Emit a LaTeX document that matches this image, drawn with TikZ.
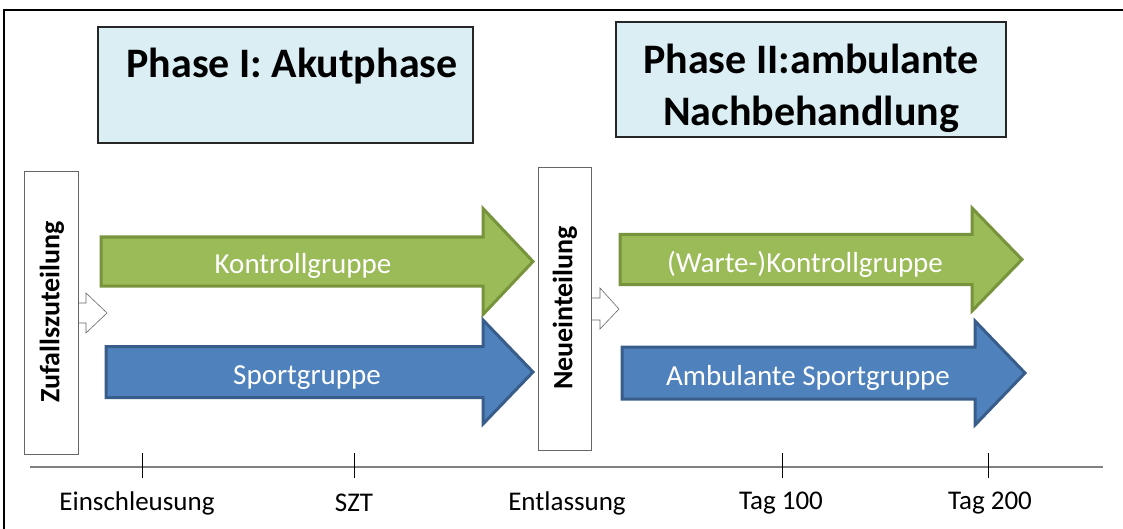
\documentclass[tikz,border=0pt]{standalone}
\usepackage{fontspec}
\setmainfont{Carlito}
\definecolor{grfill}{HTML}{9BBB59}
\definecolor{grline}{HTML}{77933C}
\definecolor{blfill}{HTML}{4F81BD}
\definecolor{blline}{HTML}{385D8A}
\definecolor{phasefill}{HTML}{DBEEF4}
\definecolor{axisgray}{HTML}{808080}
\tikzset{
  phasebox/.style={draw=black!85, line width=1.5pt, fill=phasefill},
  phasetext/.style={font=\fontsize{42}{52}\selectfont\bfseries, align=center, inner sep=0pt},
  splitbox/.style={draw=black!60, line width=0.8pt, fill=white},
  splittext/.style={font=\fontsize{28}{32}\selectfont\bfseries, rotate=90, inner sep=0pt},
  notch/.style={draw=black!60, line width=0.6pt, fill=white},
  greenarrow/.style={draw=grline, fill=grfill, line width=3pt, line join=miter},
  bluearrow/.style={draw=blline, fill=blfill, line width=3pt, line join=miter},
  arrowtext/.style={text=white, font=\fontsize{29}{34}\selectfont, inner sep=0pt},
  axisline/.style={draw=axisgray, line width=2.5pt},
  tickline/.style={draw=black, line width=1pt},
  ticklabel/.style={font=\fontsize{27}{32}\selectfont, inner sep=0pt}
}
% block arrow: #1 start x, #2 head base x, #3 tip x, #4 centre y, #5 shaft half height, #6 head half height
\newcommand{\blockarrow}[7]{%
  \path[#7] (#1,#4-#5) -- (#2,#4-#5) -- (#2,#4-#6) -- (#3,#4) -- (#2,#4+#6) -- (#2,#4+#5) -- (#1,#4+#5) -- cycle;}
\begin{document}
\begin{tikzpicture}[x=1pt,y=-1pt]
\useasboundingbox (0,0) rectangle (1123,529);
% outer frame (top and left edges)
\draw[line width=2.5pt] (4,529) -- (4,10) -- (1123,10);

% phase headings
\draw[phasebox] (98,27) rectangle (473,143);
\node[phasetext] (p1) at (292,66) {Phase I: Akutphase};
\draw[phasebox] (616,22) rectangle (1006,137);
\node[phasetext] (p2) at (811,88) {Phase II:ambulante\\Nachbehandlung};

% group arrows, phase I
\blockarrow{101}{483}{533}{261.5}{24.5}{53}{greenarrow}
\node[arrowtext] (kg) at (303,266) {Kontrollgruppe};
\blockarrow{106}{483}{533}{372}{25.5}{52}{bluearrow}
\node[arrowtext] (sg) at (307,378) {Sportgruppe};

% group arrows, phase II
\blockarrow{620}{972}{1022}{259.5}{25}{51.5}{greenarrow}
\node[arrowtext] (wkg) at (805,264) {(Warte-)Kontrollgruppe};
\blockarrow{622}{975}{1025}{373}{26}{52}{bluearrow}
\node[arrowtext] (asg) at (808,378) {Ambulante Sportgruppe};

% randomisation box with its small arrow
\path[notch] (76,303) -- (86,303) -- (86,293) -- (107,313) -- (86,333) -- (86,323) -- (76,323);
\draw[splitbox] (24,171) rectangle (78,454);
\node[splittext] (zuf) at (52,312) {Zufallszuteilung};

% reassignment box with its small arrow
\path[notch] (589,298) -- (600,298) -- (600,288) -- (619,309) -- (600,329) -- (600,320) -- (589,320);
\draw[splitbox] (538,167) rectangle (591,450);
\node[splittext] (neu) at (565,308) {Neueinteilung};

% time axis
\coordinate (axL) at (30,467);
\coordinate (axR) at (1103,467);
\draw[axisline] (axL) -- (axR);
\foreach \x/\nm in {142/t1,354/t2,782/t4,988/t5}{
  \coordinate (\nm top) at (\x,453);
  \coordinate (\nm bot) at (\x,478);
  \draw[tickline] (\nm top) -- (\nm bot);
}
\node[ticklabel] (l1) at (137,503) {Einschleusung};
\node[ticklabel] (l2) at (354,503) {SZT};
\node[ticklabel] (l3) at (567,503) {Entlassung};
\node[ticklabel] (l4) at (781,503) {Tag 100};
\node[ticklabel] (l5) at (990,503) {Tag 200};
\end{tikzpicture}
\end{document}
